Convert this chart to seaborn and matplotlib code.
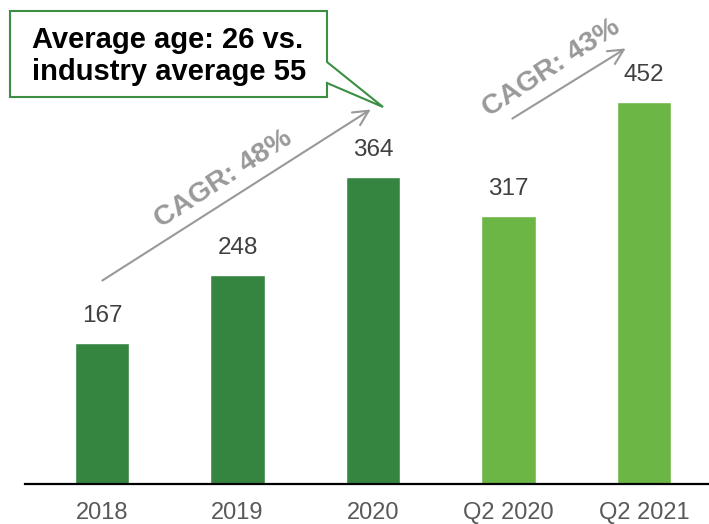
import seaborn as sns
import matplotlib.pyplot as plt
from matplotlib.patches import Polygon

categories = ['2018', '2019', '2020', 'Q2 2020', 'Q2 2021']
values = [167, 248, 364, 317, 452]
bar_colors = ['#358541', '#358541', '#358541', '#6cb645', '#6cb645']
callout_text = 'Average age: 26 vs.\nindustry average 55'
cagr_labels = ['CAGR: 48%', 'CAGR: 43%']

W, H = 709, 524

sns.set_theme(style='white')
plt.rcParams['font.family'] = ['Liberation Sans', 'DejaVu Sans']

fig = plt.figure(figsize=(W / 100, H / 100), dpi=100)
ax = fig.add_axes([25 / W, 40 / H, 684 / W, 484 / H])

sns.barplot(x=categories, y=values, hue=categories, palette=bar_colors,
            width=0.405, legend=False, ax=ax, saturation=1)

ax.set_xlim(-0.568, 4.48)
ax.set_ylim(0, 573)
ax.set_yticks([])
ax.set_xlabel('')
ax.set_ylabel('')
for s in ['top', 'right', 'left']:
    ax.spines[s].set_visible(False)
ax.spines['bottom'].set_color('black')
ax.spines['bottom'].set_linewidth(1.6)
ax.tick_params(axis='x', length=0, pad=13, labelsize=17, labelcolor='#595959')

for i, v in enumerate(values):
    ax.annotate(str(v), (i, v), xytext=(0, 11.5), textcoords='offset points',
                ha='center', va='bottom', fontsize=17.5, color='#404040')


def px(x, y):
    # top-left pixel -> figure pixel
    return (x, H - y)


# callout box with tail
pts = [px(10, 11), px(327, 11), px(327, 62), px(383, 107),
       px(327, 83), px(327, 97), px(10, 97)]
poly = Polygon(pts, closed=True, facecolor='white', edgecolor='#3a8f43',
               linewidth=1.5, transform=None, zorder=5)
fig.patches.append(poly)
fig.text(32 / W, 1 - 56 / H, callout_text, fontsize=21, fontweight='bold',
         color='black', ha='left', va='center', linespacing=1.2, zorder=6)

# CAGR arrows
arrow_kw = dict(arrowstyle='->,head_length=0.9,head_width=0.45',
                color='#999999', lw=1.5)
ax.annotate('', xy=px(373, 108), xytext=px(100, 282),
            xycoords='figure pixels', textcoords='figure pixels',
            arrowprops=arrow_kw)
ax.annotate('', xy=px(628, 47), xytext=px(510, 120),
            xycoords='figure pixels', textcoords='figure pixels',
            arrowprops=arrow_kw)

ax.annotate(cagr_labels[0], xy=px(223, 179), xycoords='figure pixels',
            rotation=33, ha='center', va='center', fontsize=20.5,
            fontweight='bold', color='#999999', rotation_mode='anchor')
ax.annotate(cagr_labels[1], xy=px(551, 68), xycoords='figure pixels',
            rotation=33, ha='center', va='center', fontsize=20.5,
            fontweight='bold', color='#999999', rotation_mode='anchor')

fig.savefig('out.png', dpi=100)
